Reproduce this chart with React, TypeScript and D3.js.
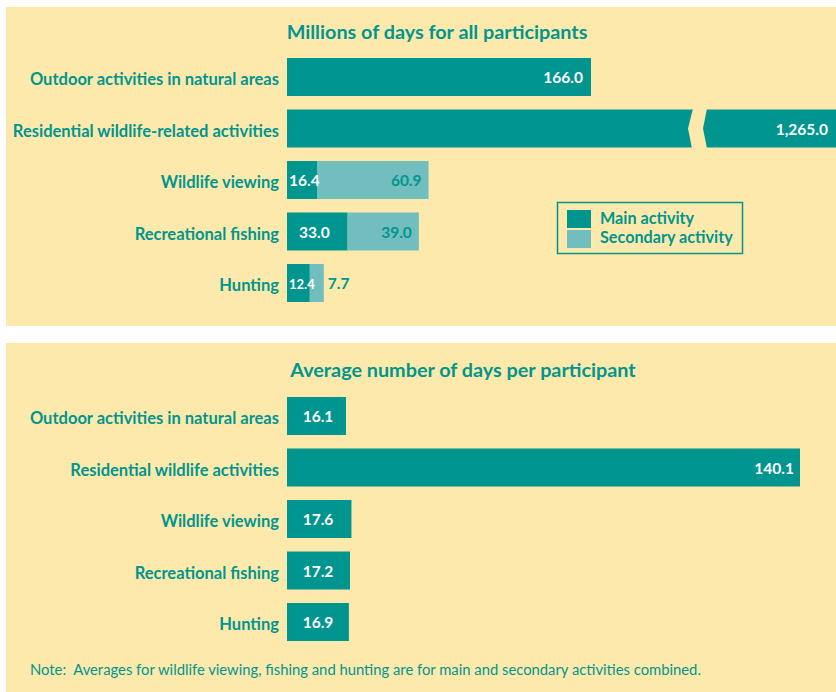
import React from "react";
import * as d3 from "d3";

const topCategories = [
  "Outdoor activities in natural areas",
  "Residential wildlife-related activities",
  "Wildlife viewing",
  "Recreational fishing",
  "Hunting",
];
const topMain = [166.0, 1265.0, 16.4, 33.0, 12.4];
const topSecondary = [0, 0, 60.9, 39.0, 7.7];
const topMainLabels = ["166.0", "1,265.0", "16.4", "33.0", "12.4"];
const topSecondaryLabels = ["", "", "60.9", "39.0", "7.7"];

const bottomCategories = [
  "Outdoor activities in natural areas",
  "Residential wildlife activities",
  "Wildlife viewing",
  "Recreational fishing",
  "Hunting",
];
const bottomValues = [16.1, 140.1, 17.6, 17.2, 16.9];

const legendLabels = ["Main activity", "Secondary activity"];

const TEAL = "#00958F";
const LIGHT = "#72BEBF";
const BG = "#FDE9AB";
const FONT = "Lato, 'Open Sans', sans-serif";

export default function App() {
  const W = 836;
  const H = 692;
  const x0 = 287;
  const barH = 38;
  const LBL = 16.5;

  const xTop = d3.scaleLinear().domain([0, 166]).range([x0, 591]);
  const yTop = d3.scalePoint<string>().domain(topCategories).range([77, 283]);
  const xBot = d3.scaleLinear().domain([0, 140.1]).range([x0, 800]);
  const yBot = d3.scalePoint<string>().domain(bottomCategories).range([416, 622]);

  const clampX = (v: number) => Math.min(xTop(v), W);

  return (
    <div style={{ position: "absolute", left: 0, top: 0, width: W, height: H, background: "#fff" }}>
      <svg width={W} height={H} style={{ display: "block", fontFamily: FONT }}>
        <rect x={0} y={0} width={W} height={H} fill="#fff" />
        {/* top panel */}
        <rect x={6} y={7} width={W - 6} height={319} fill={BG} />
        <text x={437} y={39} textAnchor="middle" fontSize={19.8} fontWeight={700} fill={TEAL}>
          Millions of days for all participants
        </text>
        {topCategories.map((c, i) => {
          const cy = yTop(c)!;
          const mEnd = clampX(topMain[i]);
          const sEnd = clampX(topMain[i] + topSecondary[i]);
          const hasSec = topSecondary[i] > 0;
          const broken = xTop(topMain[i]) > W;
          return (
            <g key={c}>
              <text x={279} y={cy + 8} textAnchor="end" fontSize={LBL} fontWeight={700} fill={TEAL}>
                {c}
              </text>
              {hasSec && (
                <rect x={mEnd} y={cy - barH / 2} width={sEnd - mEnd} height={barH} fill={LIGHT} />
              )}
              <rect x={x0} y={cy - barH / 2} width={mEnd - x0} height={barH} fill={TEAL} />
              {broken && (
                <polygon
                  points={`693,${cy - barH / 2 - 1} 688,${cy} 692,${cy + barH / 2 + 1} 707,${cy + barH / 2 + 1} 703,${cy} 707,${cy - barH / 2 - 1}`}
                  fill={BG}
                />
              )}
              {!hasSec && (
                <text x={mEnd - 8} y={cy + 6} textAnchor="end" fontSize={15.5} fontWeight={700} fill="#fff">
                  {topMainLabels[i]}
                </text>
              )}
              {hasSec && (
                <text
                  x={i === 3 ? x0 + 12 : x0 + 2}
                  y={cy + 6}
                  textAnchor="start"
                  fontSize={i === 4 ? 13 : 15.5}
                  fontWeight={700}
                  fill="#fff"
                >
                  {topMainLabels[i]}
                </text>
              )}
              {hasSec && (
                <text
                  x={i === 4 ? sEnd + 4 : sEnd - 7}
                  y={cy + 6}
                  textAnchor={i === 4 ? "start" : "end"}
                  fontSize={15.5}
                  fontWeight={700}
                  fill={TEAL}
                >
                  {topSecondaryLabels[i]}
                </text>
              )}
            </g>
          );
        })}
        {/* legend */}
        <rect x={557.5} y={202.5} width={185} height={51} fill="none" stroke={TEAL} strokeWidth={1.5} />
        {legendLabels.map((l, i) => (
          <g key={l}>
            <rect x={567} y={210 + i * 20} width={24} height={18} fill={i === 0 ? TEAL : LIGHT} />
            <text x={600} y={224 + i * 19} fontSize={16.2} fontWeight={700} fill={TEAL}>
              {l}
            </text>
          </g>
        ))}

        {/* bottom panel */}
        <rect x={6} y={343} width={W - 6} height={H - 343} fill={BG} />
        <text x={463} y={377} textAnchor="middle" fontSize={19.8} fontWeight={700} fill={TEAL}>
          Average number of days per participant
        </text>
        {bottomCategories.map((c, i) => {
          const cy = yBot(c)!;
          const end = xBot(bottomValues[i]);
          return (
            <g key={c}>
              <text x={279} y={cy + 8} textAnchor="end" fontSize={LBL} fontWeight={700} fill={TEAL}>
                {c}
              </text>
              <rect x={x0} y={cy - barH / 2} width={end - x0} height={barH} fill={TEAL} />
              <text
                x={i === 1 ? end - 6 : x0 + 31}
                y={cy + 6}
                textAnchor={i === 1 ? "end" : "middle"}
                fontSize={15.5}
                fontWeight={700}
                fill="#fff"
              >
                {d3.format(".1f")(bottomValues[i])}
              </text>
            </g>
          );
        })}
        <text x={30} y={675} fontSize={14.8} fill={TEAL}>
          Note:{"\u00a0\u00a0"}Averages for wildlife viewing, fishing and hunting are for main and secondary activities combined.
        </text>
      </svg>
    </div>
  );
}
